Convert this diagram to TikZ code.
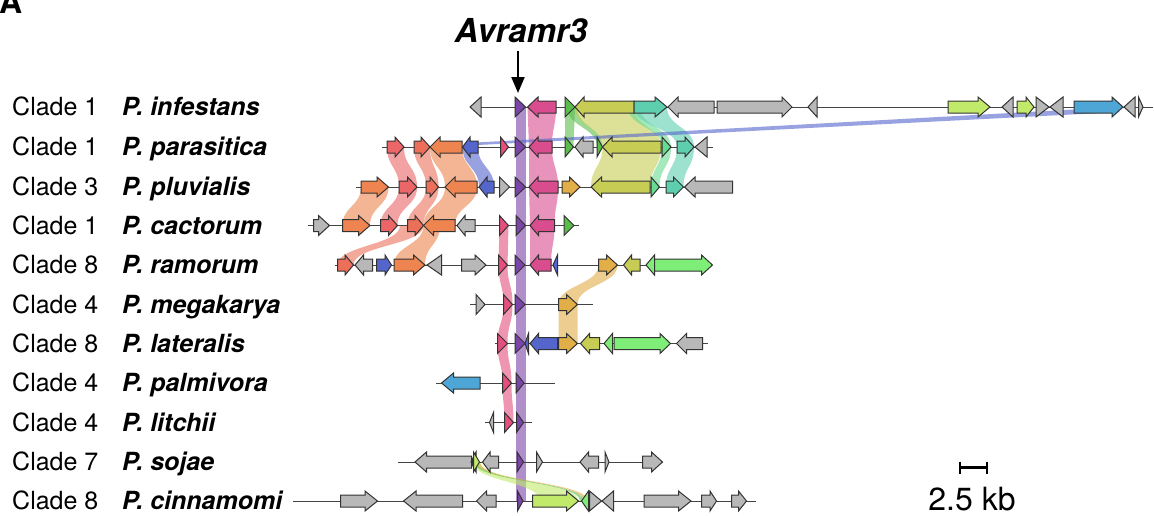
\documentclass[tikz,border=0pt]{standalone}
\usepackage{fontspec}
\setmainfont{TeX Gyre Heros}
\usetikzlibrary{arrows.meta}
\definecolor{gy}{HTML}{B8B8B8}
\definecolor{pu}{HTML}{7B44A8}
\definecolor{mg}{HTML}{D94C8E}
\definecolor{pr}{HTML}{E44F7E}
\definecolor{gr}{HTML}{5ABD4B}
\definecolor{ol}{HTML}{C7CD54}
\definecolor{te}{HTML}{5DCFAF}
\definecolor{mi}{HTML}{67DB90}
\definecolor{sa}{HTML}{EC6567}
\definecolor{co}{HTML}{EC7059}
\definecolor{orr}{HTML}{EE844F}
\definecolor{bl}{HTML}{5465CC}
\definecolor{go}{HTML}{E1AE47}
\definecolor{lg}{HTML}{7FEE78}
\definecolor{li}{HTML}{C1EA6A}
\definecolor{sk}{HTML}{4EA6D6}
\definecolor{ln}{HTML}{444444}
\definecolor{ol2}{HTML}{333333}
\newcommand\gn[5]{\filldraw[genestyle,fill=#1] (#3,#2-6) -- (#4,#2-6) -- (#4,#2-10) -- (#5,#2) -- (#4,#2+10) -- (#4,#2+6) -- (#3,#2+6) -- cycle;}
\newcommand\rb[7]{\fill[#1,fill opacity=.6] (#3,#2) .. controls (#3,{(#2+#5)/2}) and (#6,{(#2+#5)/2}) .. (#6,#5) -- (#7,#5) .. controls (#7,{(#2+#5)/2}) and (#4,{(#2+#5)/2}) .. (#4,#2) -- cycle;}
\tikzset{
  genestyle/.style={draw=ol2,line width=1pt,line join=miter},
  bb/.style={draw=ln,line width=1pt},
  clade/.style={anchor=base west,inner sep=0pt,font=\fontsize{25}{30}\selectfont},
  species/.style={anchor=base west,inner sep=0pt,font=\fontsize{25}{30}\selectfont\bfseries\itshape},
}
\begin{document}
\begin{tikzpicture}[x=1pt,y=-1pt]
\useasboundingbox (0,0) rectangle (1154,515);
\fill[white] (0,0) rectangle (1154,515);
% ---------- labels
\node[anchor=base west,inner sep=0pt,font=\fontsize{32}{36}\selectfont\bfseries] (lblA) at (-1,13) {A};
\node[anchor=base,inner sep=0pt,font=\fontsize{33}{38}\selectfont\bfseries\itshape] (av) at (521,42) {Avramr3};
\coordinate (astart) at (518,51);
\coordinate (atip) at (518,93);
\draw[line width=2.2pt,-{Triangle[length=16pt,width=13pt]}] (astart) -- (atip);
\foreach \y/\c/\s/\n in {107/1/infestans/1,147/1/parasitica/2,187/3/pluvialis/3,225.5/1/cactorum/4,265/8/ramorum/5,304.5/4/megakarya/6,343.5/8/lateralis/7,383/4/palmivora/8,422.5/4/litchii/9,462/7/sojae/10,501/8/cinnamomi/11}{
  \node[clade] (c\n) at (12,\y+8.5) {Clade \c};
  \node[species] (s\n) at (122,\y+8.5) {P. \s};
}
% ---------- ribbons
\fill[pu,fill opacity=.6] (515.5,107) rectangle (525.5,501);
% magenta
\rb{mg}{107}{527.5}{556}{147}{529}{552}
\rb{mg}{147}{529}{552}{187}{529}{558}
\rb{mg}{187}{529}{558}{225.5}{530}{554.5}
\rb{mg}{225.5}{530}{554.5}{265}{530}{551}
% pink-red
\rb{pr}{225.5}{499.5}{508.5}{265}{498.5}{507.5}
\rb{pr}{265}{498.5}{507.5}{304.5}{503.5}{512.5}
\rb{pr}{304.5}{503.5}{512.5}{343.5}{497.5}{507.5}
\rb{pr}{343.5}{497.5}{507.5}{383}{502.5}{511.5}
\rb{pr}{383}{502.5}{511.5}{422.5}{504.5}{513.5}
% green/olive/mint/teal
\rb{gr}{107}{565}{575}{147}{565}{573.5}
\rb{gr}{107}{567}{577}{147}{597}{602.5}
\rb{ol}{107}{575}{634}{147}{602.5}{661}
\rb{ol}{147}{602.5}{661}{187}{591}{650}
\rb{mi}{107}{628}{640}{147}{662}{671}
\rb{mi}{147}{662}{671}{187}{651}{659.5}
\rb{te}{107}{634}{667}{147}{677}{694}
\rb{te}{147}{677}{694}{187}{666}{683.5}
% salmon / coral / orange / blue
\rb{sa}{147}{387}{404}{187}{399}{417}
\rb{sa}{187}{399}{417}{225.5}{380.5}{397.5}
\rb{co}{147}{414}{430}{187}{426}{438.5}
\rb{co}{187}{426}{438.5}{225.5}{407.5}{423.5}
\rb{co}{225.5}{400}{423.5}{265}{337.5}{353.5}
\rb{orr}{147}{430}{462}{187}{445}{477}
\rb{orr}{187}{445}{477}{225.5}{423.5}{455}
\rb{orr}{225.5}{423.5}{440}{265}{394}{425}
\rb{orr}{187}{361}{388.5}{225.5}{342.5}{370}
\rb{bl}{147}{462.5}{478}{187}{479}{494}
% gold
\rb{go}{265}{598.5}{617.5}{304.5}{558.5}{577.5}
\rb{go}{304.5}{558.5}{577.5}{343.5}{558.5}{577.5}
% long blue
\fill[bl,fill opacity=.6] (476,142.5) -- (1074,109.5) -- (1120,112) -- (478,145) -- cycle;
% lime r10 -> r11
\rb{li}{462}{473}{480}{501}{540}{578}
\rb{gr}{462}{474}{477}{501}{580}{584}
\rb{go}{462}{477}{480}{501}{584}{588}
% ---------- backbones
\draw[bb] (470,107) -- (1153,107);
\draw[bb] (382,147) -- (713,147);
\draw[bb] (356,187) -- (732,187);
\draw[bb] (308,225.5) -- (579,225.5);
\draw[bb] (335,265) -- (712,265);
\draw[bb] (470,304.5) -- (593,304.5);
\draw[bb] (495,343.5) -- (708,343.5);
\draw[bb] (436,383) -- (555,383);
\draw[bb] (485,422.5) -- (532,422.5);
\draw[bb] (398,462) -- (663,462);
\draw[bb] (293,501) -- (756,501);
% ---------- genes row 1
\gn{gy}{107}{481}{481}{470}
\gn{pu}{107}{515}{515}{525.5}
\gn{mg}{107}{556}{538}{527.5}
\gn{gr}{107}{565}{565}{575}
\gn{ol}{107}{634}{584}{575}
\gn{te}{107}{634}{655}{667}
\gn{gy}{107}{714}{678}{668}
\gn{gy}{107}{717}{782}{792}
\gn{gy}{107}{817}{817}{808}
\gn{li}{107}{948}{978}{990}
\gn{gy}{107}{1013}{1013}{1002}
\gn{li}{107}{1017}{1026}{1034}
\gn{gy}{107}{1036}{1036}{1049}
\gn{gy}{107}{1063}{1063}{1050}
\gn{sk}{107}{1074}{1112}{1123}
\gn{gy}{107}{1135}{1135}{1124}
\gn{gy}{107}{1138.5}{1138.5}{1143}
% row 2
\gn{sa}{147}{387}{395}{404}
\gn{co}{147}{414}{421}{430}
\gn{orr}{147}{462}{440}{430}
\gn{bl}{147}{478}{470}{462.5}
\gn{pr}{147}{500.5}{500.5}{508.5}
\gn{pu}{147}{515}{515}{525.5}
\gn{mg}{147}{552}{538}{529}
\gn{gr}{147}{565}{565}{573.5}
\gn{gy}{147}{593}{583}{575}
\gn{gr}{147}{597}{597}{602.5}
\gn{ol}{147}{661}{612}{602.5}
\gn{mi}{147}{662}{662}{671}
\gn{te}{147}{677}{685}{694}
\gn{gy}{147}{707}{707}{695}
% row 3
\gn{orr}{187}{361}{377}{388.5}
\gn{sa}{187}{399}{407.5}{417}
\gn{co}{187}{426}{430}{438.5}
\gn{orr}{187}{477}{455}{445}
\gn{bl}{187}{494}{487}{479}
\gn{gy}{187}{499.5}{499.5}{509.5}
\gn{pu}{187}{515}{515}{525.5}
\gn{mg}{187}{558}{538}{529}
\gn{go}{187}{562}{569.5}{580}
\gn{ol}{187}{650}{601.5}{591}
\gn{mi}{187}{651}{651}{659.5}
\gn{te}{187}{666}{673.5}{683.5}
\gn{gy}{187}{732.5}{695}{684.5}
% row 4
\gn{gy}{225.5}{313.5}{318.5}{329.5}
\gn{orr}{225.5}{342.5}{358.5}{370}
\gn{sa}{225.5}{380.5}{388.5}{397.5}
\gn{co}{225.5}{407.5}{415}{423.5}
\gn{orr}{225.5}{455}{433.5}{423.5}
\gn{gy}{225.5}{475}{465}{457}
\gn{pr}{225.5}{499.5}{499.5}{508.5}
\gn{pu}{225.5}{516}{516}{525.5}
\gn{mg}{225.5}{554.5}{538.5}{530}
\gn{gr}{225.5}{564}{564}{574}
% row 5
\gn{co}{265}{337.5}{345}{353.5}
\gn{gy}{265}{372.5}{363.5}{355}
\gn{bl}{265}{376.5}{385}{391.5}
\gn{orr}{265}{394}{413.5}{425}
\gn{gy}{265}{441.5}{441.5}{427}
\gn{gy}{265}{461.5}{475}{486}
\gn{pr}{265}{498.5}{498.5}{507.5}
\gn{pu}{265}{515}{515}{525}
\gn{mg}{265}{551}{538.5}{530}
\gn{bl}{265}{557.5}{557.5}{553}
\gn{go}{265}{598.5}{606.5}{617.5}
\gn{ol}{265}{640}{631.5}{623.5}
\gn{lg}{265}{654.5}{654.5}{646}
\gn{lg}{265}{654.5}{701.5}{712.5}
% row 6
\gn{gy}{304.5}{476}{476}{485}
\gn{pr}{304.5}{503.5}{503.5}{512.5}
\gn{pu}{304.5}{515}{515}{525}
\gn{go}{304.5}{558.5}{566.5}{577.5}
% row 7
\gn{pr}{343.5}{497.5}{497.5}{507.5}
\gn{pu}{343.5}{515}{515}{525}
\gn{bl}{343.5}{528.5}{528.5}{525}
\gn{bl}{343.5}{557.5}{538.5}{530}
\gn{go}{343.5}{558.5}{566.5}{577.5}
\gn{ol}{343.5}{599.5}{589.5}{580.5}
\gn{lg}{343.5}{612.5}{612.5}{604}
\gn{lg}{343.5}{614}{660}{670.5}
\gn{gy}{343.5}{702.5}{686.5}{676.5}
% row 8
\gn{sk}{383}{480}{453.5}{441.5}
\gn{pr}{383}{502.5}{502.5}{511.5}
\gn{pu}{383}{516}{516}{524}
% row 9
\gn{gy}{422.5}{493.5}{493.5}{489.5}
\gn{pr}{422.5}{504.5}{504.5}{513.5}
\gn{pu}{422.5}{516.5}{516.5}{523.5}
% row 10
\gn{gy}{462}{471.5}{426.5}{415}
\gn{ol2}{462}{476}{476}{471}
\gn{li}{462}{473.5}{473.5}{479.5}
\gn{gy}{462}{498.5}{490}{482.5}
\gn{pu}{462}{517}{517}{523.5}
\gn{gy}{462}{536.5}{536.5}{542.5}
\gn{gy}{462}{598.5}{588.5}{580}
\gn{gy}{462}{605}{605}{609}
\gn{gy}{462}{642.5}{651.5}{662.5}
% row 11
\gn{gy}{501}{340.5}{365}{377.5}
\gn{gy}{501}{462.5}{416}{403.5}
\gn{gy}{501}{496}{486.5}{476.5}
\gn{pu}{501}{517.5}{517.5}{523}
\gn{li}{501}{532.5}{566.5}{578.5}
\gn{lg}{501}{588.5}{588.5}{581.5}
\gn{gy}{501}{589.5}{589.5}{601.5}
\gn{gy}{501}{613.5}{613.5}{602}
\gn{gy}{501}{644}{678.5}{691}
\gn{gy}{501}{701.5}{710}{716.5}
\gn{gy}{501}{731.5}{738.5}{746.5}
% ---------- scale bar
\coordinate (sbl) at (960,467.5);
\coordinate (sbr) at (987,467.5);
\draw[line width=2.6pt] (sbl) -- (sbr);
\draw[line width=2.6pt] ([yshift=6pt]sbl) -- ([yshift=-6pt]sbl);
\draw[line width=2.6pt] ([yshift=6pt]sbr) -- ([yshift=-6pt]sbr);
\node[anchor=base,inner sep=0pt,font=\fontsize{32}{36}\selectfont] (sbt) at (972,510) {2.5 kb};
\end{tikzpicture}
\end{document}
